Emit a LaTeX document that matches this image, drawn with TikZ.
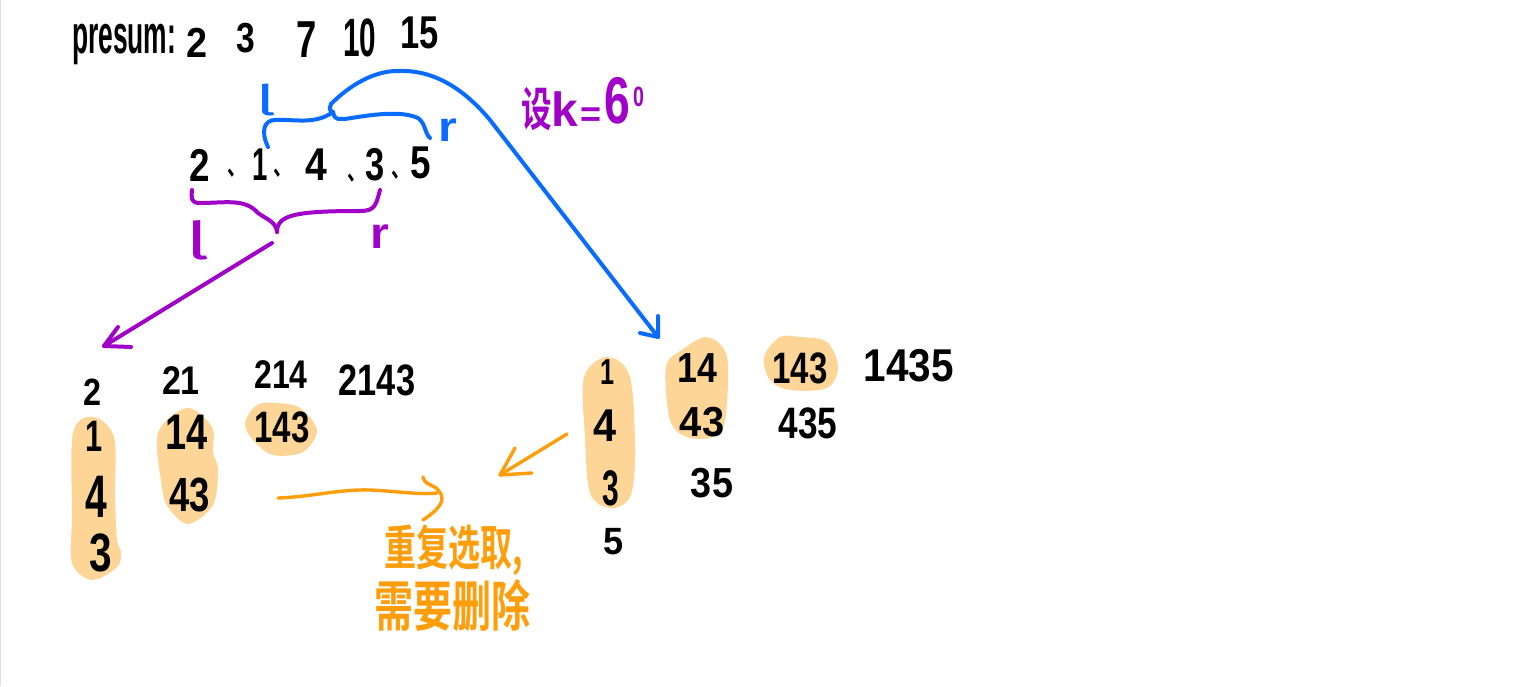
\documentclass[tikz,border=0pt]{standalone}
\usepackage{graphicx}
\usepackage{fontspec}
\setmainfont{Liberation Sans}
\newfontfamily\cjk{Noto Sans CJK SC}[BoldFont={Noto Sans CJK SC Bold}]
\newfontfamily\hook{Fira Sans}
\definecolor{hblue}{HTML}{0A6CFF}
\definecolor{hpurple}{HTML}{A100C8}
\definecolor{horange}{HTML}{FF9D0A}
\definecolor{hfill}{HTML}{FDD596}
\newcommand{\fs}[1]{\fontsize{#1}{#1}\selectfont}
% \dg{size}{x-scale}{text}: narrow, tall pen-like digits
\newcommand{\dg}[3]{\scalebox{#2}[1]{\fs{#1}\bfseries #3}}
% \pa: the enumeration mark, narrowed so that it clears the next digit
\newcommand{\pa}{\scalebox{0.7}[1]{、}}
\tikzset{
  hand/.style={inner sep=0pt,outer sep=0pt,text=black},
  pause/.style={hand,anchor=west,font=\fs{27}\cjk\bfseries},
  blob/.style={fill=hfill,draw=none},
  pen/.style={line width=#1,line cap=round,line join=round},
  pen/.default=4pt,
  bluepen/.style={pen,draw=hblue},
  purplepen/.style={pen,draw=hpurple},
  orangepen/.style={pen=3.4pt,draw=horange},
  bluelabel/.style={hand,text=hblue},
  purplelabel/.style={hand,text=hpurple},
  oranget/.style={hand,text=horange,anchor=west}
}
\begin{document}
\begin{tikzpicture}[x=1pt,y=-1pt]
\useasboundingbox (0,0) rectangle (1536,686);
\fill[white] (0,0) rectangle (1536,686);
\draw[black!12,line width=1.5pt] (0.5,0) -- (0.5,686);
% highlights
\fill[blob] plot[smooth cycle,tension=0.55] coordinates {(93,417)(114,437)(115,497)(117,540)(121,552)(117,567)(92,580)(72,563)(72,517)(73,433)};
\fill[blob] plot[smooth cycle,tension=0.55] coordinates {(187,408)(212,427)(213,452)(218,470)(213,505)(188,524)(168,507)(162,487)(158,433)};
\fill[blob] plot[smooth cycle,tension=0.55] coordinates {(277,403)(300,408)(317,430)(303,452)(273,455)(253,440)(245,423)(257,405)};
\fill[blob] plot[smooth cycle,tension=0.55] coordinates {(607,357)(630,377)(635,453)(630,497)(610,508)(590,493)(585,437)(584,377)};
\fill[blob] plot[smooth cycle,tension=0.55] coordinates {(707,337)(727,357)(725,420)(713,437)(687,437)(670,420)(666,367)(682,350)};
\fill[blob] plot[smooth cycle,tension=0.55] coordinates {(780,337)(800,337)(827,342)(838,367)(827,388)(790,390)(770,380)(764,357)};
% top row
\node[hand,anchor=west] (presum) at (72,44) {\scalebox{0.8}[1.65]{\fs{33}\bfseries presum:}};
\node[hand] (p2) at (197,43) {\dg{42}{0.9}{2}};
\node[hand] (p3) at (246,38) {\dg{42}{0.8}{3}};
\node[hand] (p7) at (307,40) {\dg{52}{0.7}{7}};
\node[hand] (p10) at (360,38) {\dg{54}{0.55}{10}};
\node[hand] (p15) at (420,33) {\dg{46}{0.75}{15}};
% array
\node[hand] (a2) at (200,165) {\dg{46}{0.8}{2}};
\node[pause] (c1) at (227,173) {\pa};
\node[hand] (a1) at (260,165) {\dg{46}{0.6}{1}};
\node[pause] (c2) at (273,173) {\pa};
\node[hand] (a4) at (316,165) {\dg{46}{0.85}{4}};
\node[pause] (c3) at (347,178) {\pa};
\node[hand] (a3) at (375,165) {\dg{46}{0.75}{3}};
\node[pause] (c4) at (391,175) {\pa};
\node[hand] (a5) at (421,163) {\dg{46}{0.8}{5}};
% braces
\coordinate (bl1) at (268,147);
\coordinate (bl2) at (275,120);
\coordinate (btip) at (333,112);
\coordinate (bstart) at (331,104);
\coordinate (br1) at (345,119);
\coordinate (br2) at (430,138);
\coordinate (bpeak) at (400,71);
\coordinate (bmid) at (490,120);
\coordinate (btarget) at (658,337);
\coordinate (bb1) at (640,333);
\coordinate (bb2) at (658,316);
\draw[bluepen] (bl1) .. controls (260,130) and (265,120) .. (bl2)
  .. controls (295,119) and (315,125) .. (btip) .. controls (328,110) and (330,108) .. (bstart);
\draw[bluepen] (btip) .. controls (335,122) and (340,118) .. (br1)
  .. controls (370,115) and (400,110) .. (418,118) .. controls (426,124) and (424,132) .. (br2);
\draw[bluepen] (bstart) .. controls (350,85) and (375,70) .. (bpeak)
  .. controls (435,70) and (465,90) .. (bmid) -- (btarget);
\draw[bluepen] (bb1) -- (btarget) -- (bb2);
\coordinate (pl1) at (192,190);
\coordinate (pl2) at (200,203);
\coordinate (ptip) at (277,232);
\coordinate (pr1) at (380,190);
\coordinate (pr2) at (360,211);
\draw[purplepen] (pl1) .. controls (191,200) and (192,203) .. (pl2)
  .. controls (225,203) and (245,198) .. (258,213) .. controls (268,220) and (276,222) .. (ptip);
\draw[purplepen] (ptip) .. controls (277,215) and (295,211) .. (pr2)
  .. controls (375,211) and (376,205) .. (pr1);
\coordinate (pa) at (272,243);
\coordinate (pt) at (104,346);
\coordinate (pb1) at (118,327);
\coordinate (pb2) at (131,347);
\draw[purplepen] (pa) -- (pt);
\draw[purplepen] (pb1) -- (pt) -- (pb2);
% labels
\node[bluelabel] (lb) at (266,100) {\scalebox{1.6}[1]{\fs{42}\hook l}};
\node[bluelabel] (rb) at (448,130) {\scalebox{1.15}[1]{\fs{42}\bfseries r}};
\node[purplelabel] (lp) at (198,240) {\scalebox{1.5}[1]{\fs{52}\hook l}};
\node[purplelabel] (rp) at (380,237) {\scalebox{1.1}[1]{\fs{44}\bfseries r}};
\node[hand,text=hpurple,anchor=base west] (setk) at (521,126)
  {{\scalebox{0.85}[1.3]{\fs{36}\cjk\bfseries 设}}{\fs{48}\bfseries k}\kern2pt{\fs{36}\bfseries =}\kern3pt\raisebox{3pt}{\dg{66}{0.7}{6}}\kern3pt\raisebox{20pt}{\dg{28}{0.7}{0}}};
% lower left
\node[hand] (l2) at (92,392) {\dg{38}{0.85}{2}};
\node[hand] (l21) at (181,381) {\dg{40}{0.85}{21}};
\node[hand] (l214) at (281,375) {\dg{40}{0.8}{214}};
\node[hand] (l2143) at (377,380) {\dg{44}{0.78}{2143}};
\node[hand] (l1) at (94,436) {\dg{44}{0.7}{1}};
\node[hand] (l4) at (96,497) {\dg{60}{0.65}{4}};
\node[hand] (l3) at (101,553) {\dg{54}{0.75}{3}};
\node[hand] (l14) at (187,432) {\dg{50}{0.76}{14}};
\node[hand] (l43) at (190,495) {\dg{48}{0.76}{43}};
\node[hand] (l143) at (282,427) {\dg{44}{0.75}{143}};
% lower right
\node[hand] (r1) at (607,372) {\dg{36}{0.7}{1}};
\node[hand] (r4) at (605,426) {\dg{46}{0.9}{4}};
\node[hand] (r3) at (611,488) {\dg{50}{0.6}{3}};
\node[hand] (r5) at (614,542) {\dg{38}{0.95}{5}};
\node[hand] (r14) at (697,368) {\dg{42}{0.85}{14}};
\node[hand] (r43) at (702,422) {\dg{42}{0.95}{43}};
\node[hand] (r143) at (800,368) {\dg{44}{0.75}{143}};
\node[hand] (r1435) at (909,366) {\dg{46}{0.88}{1435}};
\node[hand] (r435) at (808,423) {\dg{44}{0.8}{435}};
\node[hand] (r35) at (712,483) {\dg{42}{0.9}{35}};
% orange arrows
\coordinate (oa) at (567,434);
\coordinate (ot) at (500,475);
\coordinate (ob1) at (515,448);
\coordinate (ob2) at (532,473);
\draw[orangepen] (oa) -- (ot);
\draw[orangepen] (ob1) -- (ot) -- (ob2);
\coordinate (oc) at (278,498);
\coordinate (od) at (437,493);
\coordinate (oe) at (423,477);
\coordinate (of) at (423,520);
\draw[orangepen] (oc) .. controls (310,497) and (340,489) .. (370,490) .. controls (395,491) and (420,495) .. (od);
\draw[orangepen] (oe) .. controls (424,485) and (435,485) .. (438,490) .. controls (448,500) and (438,510) .. (of);
% orange text
\node[oranget] (t1) at (384,550) {\scalebox{1}[1.5]{\fs{32}\cjk\bfseries 重复选取,}};
\node[oranget] (t2) at (374,606) {\scalebox{1}[1.4]{\fs{39}\cjk\bfseries 需要删除}};
\end{tikzpicture}
\end{document}
